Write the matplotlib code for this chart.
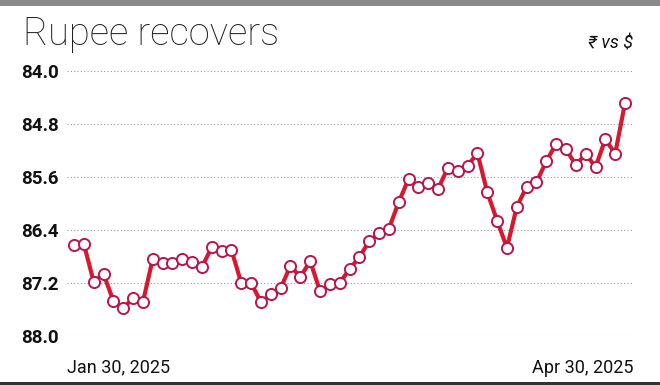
import numpy as np
import matplotlib
matplotlib.use("Agg")
import matplotlib.pyplot as plt

# rupee per dollar, Jan 30 - Apr 30, 2025
rates = [86.63, 86.61, 87.18, 87.06, 87.47, 87.58, 87.43, 87.49, 86.84, 86.90,
         86.90, 86.84, 86.88, 86.96, 86.66, 86.72, 86.70, 87.20, 87.20, 87.49,
         87.37, 87.28, 86.94, 87.11, 86.87, 87.32, 87.22, 87.20, 86.99, 86.81,
         86.57, 86.45, 86.38, 85.98, 85.63, 85.75, 85.69, 85.78, 85.46, 85.51,
         85.43, 85.24, 85.83, 86.26, 86.67, 86.05, 85.75, 85.68, 85.36, 85.10,
         85.18, 85.42, 85.25, 85.45, 85.03, 85.25, 84.48]
y_ticks = [84.0, 84.8, 85.6, 86.4, 87.2, 88.0]
start_label = "Jan 30, 2025"
end_label = "Apr 30, 2025"

fig = plt.figure(figsize=(6.6, 3.85), dpi=100)
fig.patch.set_facecolor("white")

# grey band on top, dark rule at bottom
fig.add_artist(plt.Rectangle((0, 1 - 6 / 385), 1, 6 / 385, transform=fig.transFigure,
                             color="#8a8a8a", lw=0))
fig.add_artist(plt.Rectangle((0, 0), 1, 3 / 385, transform=fig.transFigure,
                             color="#333333", lw=0))

fig.text(23 / 660, 1 - 34 / 385, "Rupee recovers", fontsize=27.5, fontweight="light",
         family=["Roboto", "DejaVu Sans"], color="#222222", va="center", ha="left")
fig.text(633 / 660, 1 - 43 / 385, "₹ vs $", fontsize=13, style="italic",
         family=["Roboto", "DejaVu Sans"], color="#111111", va="center", ha="right")

ax = fig.add_axes([67 / 660, 1 - 336 / 385, 566 / 660, 265 / 385])
x = np.arange(len(rates))
ax.plot(x, rates, color="#d41a2c", lw=3, zorder=3, solid_joinstyle="round")
ax.plot(x, rates, ls="none", marker="o", ms=8, mfc="white", mec="#b8164a",
        mew=1.4, zorder=4)

ax.set_ylim(88.0, 84.0)
ax.set_xlim(-0.71, len(rates) - 1 + 0.81)
ax.set_yticks(y_ticks)
ax.set_yticklabels([f"{v:.1f}" for v in y_ticks], fontsize=13.5, fontweight="bold",
                   family=["Roboto", "DejaVu Sans"], color="#111111")
ax.tick_params(axis="y", length=0, pad=6)
ax.set_xticks([])
for v in y_ticks:
    ax.axhline(v, color="#999999", lw=0.8, ls=(0, (1, 2)), zorder=1)
for s in ax.spines.values():
    s.set_visible(False)

ax.text(0, -0.12, start_label, transform=ax.transAxes, ha="left", va="center",
        fontsize=13, family=["Roboto", "DejaVu Sans"], color="#111111")
ax.text(1, -0.12, end_label, transform=ax.transAxes, ha="right", va="center",
        fontsize=13, family=["Roboto", "DejaVu Sans"], color="#111111")

fig.savefig("out.png", dpi=100)
